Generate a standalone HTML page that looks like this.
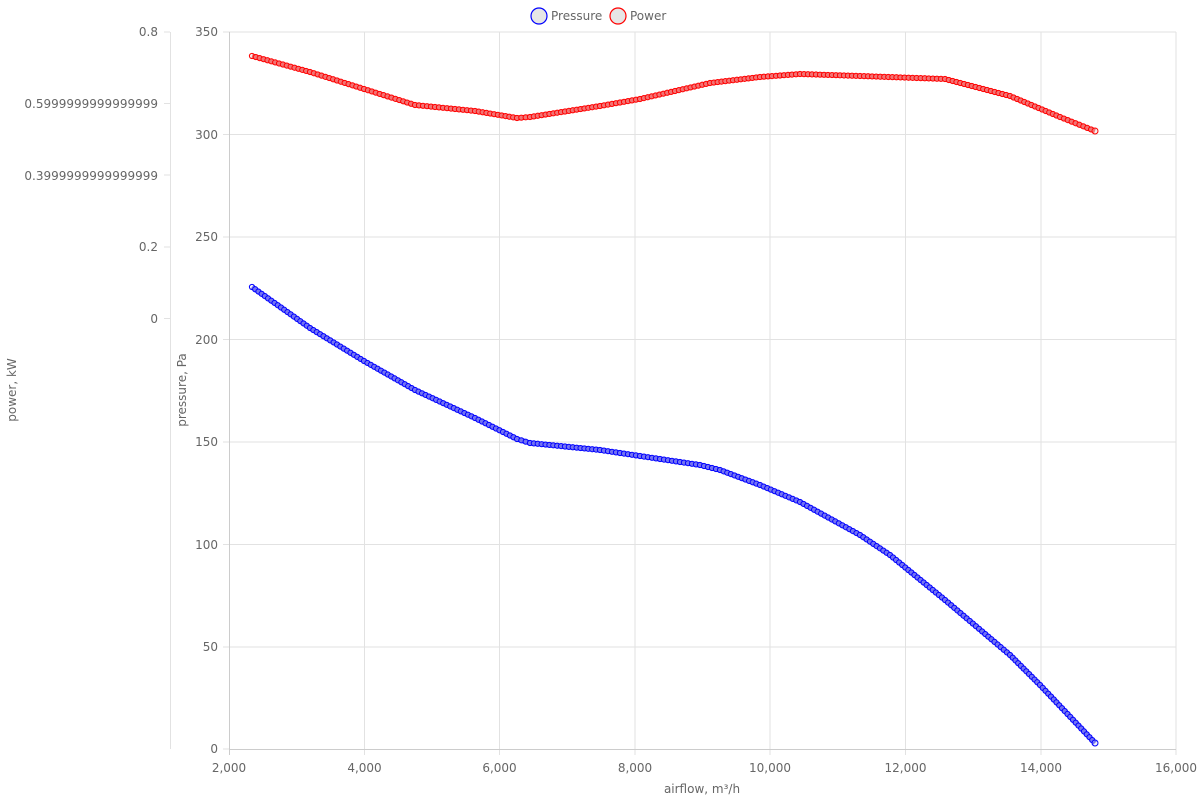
<!DOCTYPE html>
<html><head><meta charset="utf-8"><style>
body{margin:0;background:#fff;font-family:"DejaVu Sans","Liberation Sans",sans-serif}
svg text{fill:#666;font-size:12px}
</style></head><body>
<svg id="s" width="1200" height="800" xmlns="http://www.w3.org/2000/svg">
<g stroke="#e2e2e2" stroke-width="1">
<line x1="229" y1="32" x2="1176" y2="32"/><line x1="229" y1="134.5" x2="1176" y2="134.5"/>
<line x1="229" y1="237" x2="1176" y2="237"/><line x1="229" y1="339.5" x2="1176" y2="339.5"/>
<line x1="229" y1="442" x2="1176" y2="442"/><line x1="229" y1="544.5" x2="1176" y2="544.5"/>
<line x1="229" y1="647" x2="1176" y2="647"/>
<line x1="364.5" y1="32" x2="364.5" y2="755"/><line x1="499.5" y1="32" x2="499.5" y2="755"/>
<line x1="635" y1="32" x2="635" y2="755"/><line x1="770" y1="32" x2="770" y2="755"/>
<line x1="905.5" y1="32" x2="905.5" y2="755"/><line x1="1041" y1="32" x2="1041" y2="755"/>
<line x1="1176" y1="32" x2="1176" y2="755"/>
<line x1="170.5" y1="32" x2="170.5" y2="749"/>
<line x1="164" y1="32" x2="170" y2="32"/><line x1="164" y1="103.5" x2="170" y2="103.5"/>
<line x1="164" y1="175" x2="170" y2="175"/><line x1="164" y1="247" x2="170" y2="247"/>
<line x1="164" y1="318.5" x2="170" y2="318.5"/>
<line x1="223" y1="32" x2="229" y2="32"/><line x1="223" y1="134.5" x2="229" y2="134.5"/>
<line x1="223" y1="237" x2="229" y2="237"/><line x1="223" y1="339.5" x2="229" y2="339.5"/>
<line x1="223" y1="442" x2="229" y2="442"/><line x1="223" y1="544.5" x2="229" y2="544.5"/>
<line x1="223" y1="647" x2="229" y2="647"/><line x1="223" y1="749" x2="229" y2="749"/>
</g>
<g stroke="#ccc"><line x1="229.5" y1="32" x2="229.5" y2="755"/><line x1="229" y1="749.5" x2="1176" y2="749.5"/></g>
<g text-anchor="end">
<text x="158" y="36">0.8</text><text x="158" y="108">0.5999999999999999</text>
<text x="158" y="180">0.3999999999999999</text><text x="158" y="251">0.2</text><text x="158" y="323">0</text>
<text x="218" y="36">350</text><text x="218" y="139">300</text><text x="218" y="241">250</text>
<text x="218" y="344">200</text><text x="218" y="446">150</text><text x="218" y="549">100</text>
<text x="218" y="651">50</text><text x="218" y="753">0</text>
</g>
<g text-anchor="middle">
<text x="229" y="772">2,000</text><text x="364.5" y="772">4,000</text><text x="499.5" y="772">6,000</text>
<text x="635" y="772">8,000</text><text x="770" y="772">10,000</text><text x="905.5" y="772">12,000</text>
<text x="1041" y="772">14,000</text><text x="1176" y="772">16,000</text>
<text x="702" y="793">airflow, m³/h</text>
<text transform="translate(186,390) rotate(-90)">pressure, Pa</text>
<text transform="translate(16,390) rotate(-90)">power, kW</text>
</g>
<circle cx="539" cy="16" r="8" fill="#e6e6e6" stroke="#00f" stroke-width="1.2"/>
<text x="551" y="20">Pressure</text>
<circle cx="618" cy="16" r="8" fill="#e6e6e6" stroke="#f00" stroke-width="1.2"/>
<text x="630" y="20">Power</text>
<g id="series"></g>
</svg>
<script>
function draw(pts,col){
 const g=document.getElementById('series');let h='';
 h+=`<polyline points="${pts.map(p=>p.join(',')).join(' ')}" fill="none" stroke="${col}" stroke-width="5" stroke-linejoin="round"/>`;
 for(let i=0;i<pts.length-1;i++){const[a,b]=pts[i],[c,d]=pts[i+1];const L=Math.hypot(c-a,d-b);const n=Math.max(1,Math.round(L/4));
  for(let k=0;k<n;k++){const t=k/n;h+=`<circle cx="${a+(c-a)*t}" cy="${b+(d-b)*t}" r="2.6" fill="rgba(230,230,230,0.5)" stroke="${col}" stroke-width="1"/>`;}}
 const l=pts[pts.length-1];h+=`<circle cx="${l[0]}" cy="${l[1]}" r="3" fill="rgba(230,230,230,0.5)" stroke="${col}" stroke-width="1"/>`;
 g.innerHTML+=h;}
draw([[252,287],[310,328],[364,361],[415,390],[475,418],[517,439],[530,443],[600,450],[700,465],[720,470],[760,485],[800,502],[860,535],[890,555],[945,600],[1010,655],[1040,685],[1095,743]],'#00f');
draw([[252,56],[310,72],[364,89],[415,105],[475,111],[517,118],[530,117],[600,106],[640,99],[710,83],[760,77],[800,74],[860,76],[945,79],[1010,96],[1060,117],[1095,131]],'#f00');
</script>
</body></html>
